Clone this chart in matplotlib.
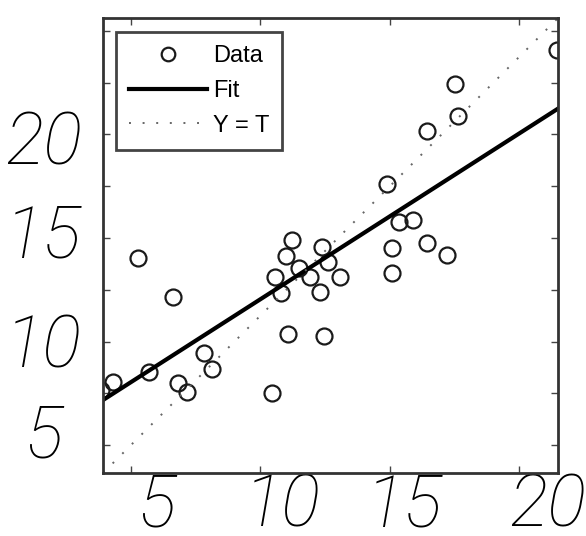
import numpy as np
import matplotlib
matplotlib.use("Agg")
import matplotlib.pyplot as plt

# targets (T) and outputs (Y)
target = [3.84, 4.31, 5.27, 5.69, 6.62, 7.82, 8.12, 6.81, 7.16,
          10.44, 11.21, 10.98, 12.37, 12.60, 10.55, 11.48, 11.90, 13.06,
          10.78, 12.29, 11.05, 12.44,
          21.47, 17.53, 17.65, 16.42, 14.91, 15.34, 15.88, 15.10, 16.42,
          17.22, 15.07]
output = [7.12, 7.43, 12.21, 7.82, 10.71, 8.55, 7.93, 7.39, 7.04,
          7.01, 12.91, 12.29, 12.64, 12.06, 11.48, 11.83, 11.48, 11.48,
          10.86, 10.90, 9.28, 9.20,
          20.27, 18.96, 17.73, 17.15, 15.10, 13.60, 13.68, 12.60, 12.79,
          12.33, 11.63]

# fit line end points
fit_x = [3.92, 21.5]
fit_y = [6.74, 18.0]

lims = [3.92, 21.5]

# tick marks (real) and the hand-placed labels
xtick_marks = [5, 10, 15, 20]
ytick_marks = [5, 7, 9, 11, 13, 15, 17, 19, 21]
xlabel_pos = [6.00, 10.82, 15.57, 21.1]
ylabel_pos = [5.58, 9.05, 13.29, 16.88]
tick_text = ["5", "10", "15", "20"]

fig = plt.figure(figsize=(5.86, 5.36), dpi=100)
ax = fig.add_axes([0.1758, 0.1175, 0.7765, 0.8489])

ax.plot(target, output, linestyle='none', marker='o', markersize=11.5,
        markerfacecolor='none', markeredgecolor='#1a1a1a', markeredgewidth=1.6,
        label='Data')
ax.plot(fit_x, fit_y, color='black', linewidth=3, label='Fit')
ax.plot(lims, lims, color='#666666', linestyle=(0, (1, 6)), linewidth=1.4,
        label='Y = T')

ax.set_xlim(lims)
ax.set_ylim(lims)

ax.set_xticks(xtick_marks, minor=True)
ax.set_yticks(ytick_marks, minor=True)
ax.tick_params(which='minor', direction='in', length=5, width=1,
               color='#444444', top=True, right=True)

lab_font = dict(family=['Roboto', 'DejaVu Sans'], style='italic',
                weight='light', size=52)
ax.set_xticks(xlabel_pos, tick_text, **lab_font)
ax.set_yticks(ylabel_pos, tick_text, **lab_font)
ax.tick_params(which='major', length=0)
ax.tick_params(axis='x', which='major', pad=-1)
for lab in ax.get_yticklabels():
    lab.set_horizontalalignment('center')
ax.tick_params(axis='y', which='major', pad=43)

for sp in ax.spines.values():
    sp.set_linewidth(2)
    sp.set_color('#333333')

leg = ax.legend(loc='upper left', bbox_to_anchor=(0.029, 0.969),
                borderaxespad=0,
                prop={'family': 'Liberation Sans', 'size': 17},
                fancybox=False, framealpha=1, edgecolor='#444444',
                handlelength=3.3, handletextpad=0.25, labelspacing=0.54,
                borderpad=0.55, markerscale=0.85)
leg.get_frame().set_linewidth(2)

fig.savefig('out.png', dpi=100)
